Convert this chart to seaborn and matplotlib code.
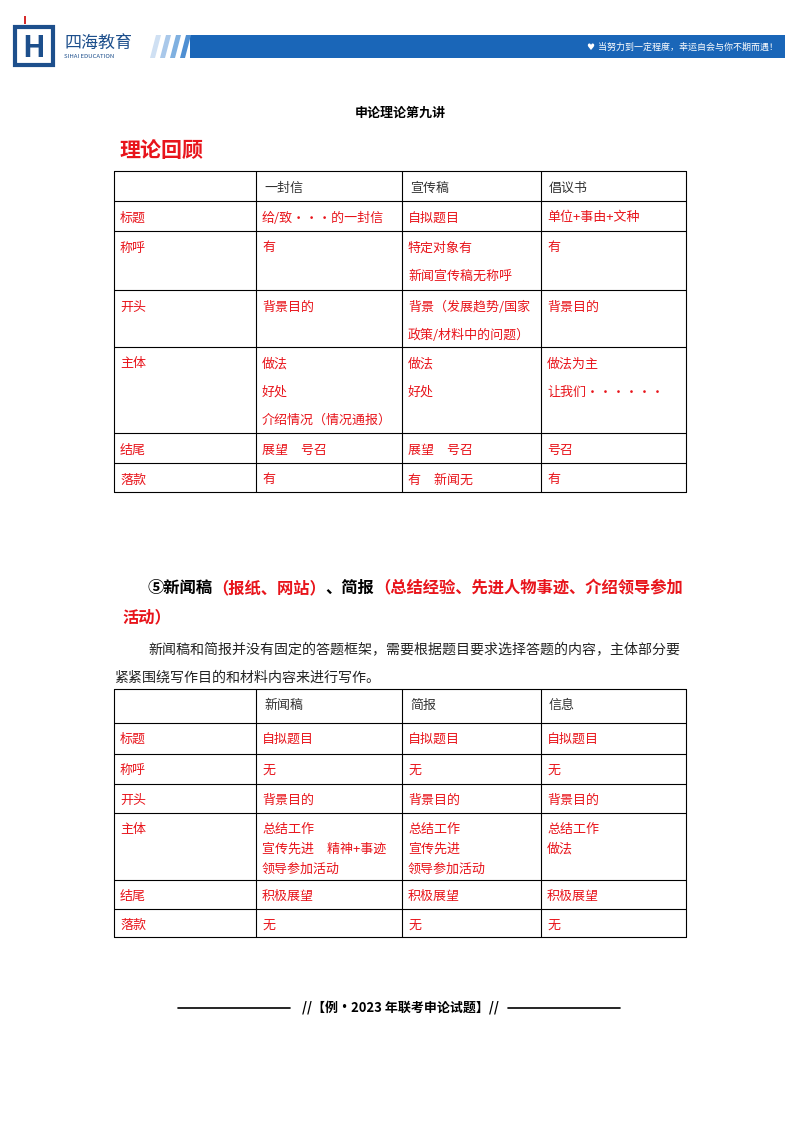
import matplotlib
matplotlib.use("Agg")
import matplotlib.pyplot as plt
import matplotlib.patches as mpatches
import seaborn as sns

sns.set_theme(style="white")
plt.rcParams['font.family'] = ['Noto Sans CJK SC', 'DejaVu Sans']

RED = '#e8141b'
BLUE = '#1a66b8'

# table contents
cols1 = ['', '一封信', '宣传稿', '倡议书']
rows1 = ['标题', '称呼', '开头', '主体', '结尾', '落款']
cells1 = [
    ['给/致・・・的一封信', '自拟题目', '单位+事由+文种'],
    ['有', '特定对象有\n新闻宣传稿无称呼', '有'],
    ['背景目的', '背景（发展趋势/国家\n政策/材料中的问题）', '背景目的'],
    ['做法\n好处\n介绍情况（情况通报）', '做法\n好处', '做法为主\n让我们・・・・・・'],
    ['展望　号召', '展望　号召', '号召'],
    ['有', '有　新闻无', '有'],
]
cols2 = ['', '新闻稿', '简报', '信息']
rows2 = ['标题', '称呼', '开头', '主体', '结尾', '落款']
cells2 = [
    ['自拟题目', '自拟题目', '自拟题目'],
    ['无', '无', '无'],
    ['背景目的', '背景目的', '背景目的'],
    ['总结工作\n宣传先进　精神+事迹\n领导参加活动', '总结工作\n宣传先进\n领导参加活动', '总结工作\n做法'],
    ['积极展望', '积极展望', '积极展望'],
    ['无', '无', '无'],
]
col_x = [114, 256, 402, 541, 686]
row_y1 = [171, 201, 231, 290, 347, 433, 463, 492]
row_y2 = [689, 723, 754, 784, 813, 880, 909, 937]

fig = plt.figure(figsize=(8, 11.32), dpi=100)
ax = fig.add_axes([0, 0, 1, 1])
ax.set_xlim(0, 800)
ax.set_ylim(1132, 0)
ax.axis('off')


def px(s):
    return s * 0.72


# header
ax.add_patch(mpatches.Rectangle((190, 35), 595, 23, color=BLUE, lw=0))
for i, c in enumerate(['#cfe0f3', '#a9c8ea', '#7fb0e0', '#4f8fd2']):
    x0 = 150 + i * 10
    ax.add_patch(mpatches.Polygon([[x0 + 6, 35], [x0 + 11, 35], [x0 + 5, 58], [x0, 58]], color=c, lw=0))
ax.add_patch(mpatches.Rectangle((15, 27), 38, 38, fill=False, ec='#1d4f8c', lw=3))
ax.text(34, 48, 'H', color='#1d4f8c', fontsize=px(30), ha='center', va='center', fontweight='bold')
ax.add_patch(mpatches.Rectangle((23.5, 16), 2, 8, color='#d62c2c', lw=0))
ax.text(64, 43, '四海教育', color='#1d4f8c', fontsize=px(17), va='center')
ax.text(64, 57, 'SIHAI EDUCATION', color='#1d4f8c', fontsize=px(6), va='center')
ax.text(778, 47, '♥ 当努力到一定程度，幸运自会与你不期而遇！', color='white',
        fontsize=px(9), ha='right', va='center', family=['DejaVu Sans', 'Noto Sans CJK SC'])

ax.text(400, 113, '申论理论第九讲', fontsize=px(13), ha='center', va='center', fontweight='bold', color='black')
ax.text(120, 150, '理论回顾', fontsize=px(21), va='center', fontweight='bold', color=RED)


def draw_table(cols, rows, cells, row_y, spacing, first_off):
    for x in col_x:
        ax.plot([x, x], [row_y[0], row_y[-1]], color='black', lw=0.8)
    for y in row_y:
        ax.plot([col_x[0], col_x[-1]], [y, y], color='black', lw=0.8)
    for j, c in enumerate(cols):
        ax.text(col_x[j] + 8, row_y[0] + first_off, c, fontsize=px(13), va='center', color='#333333')
    for i, r in enumerate(rows):
        top = row_y[i + 1]
        ax.text(col_x[0] + 6, top + first_off, r, fontsize=px(13), va='center', color=RED)
        for j, txt in enumerate(cells[i]):
            for k, line in enumerate(txt.split('\n')):
                ax.text(col_x[j + 1] + 6, top + first_off + k * spacing, line,
                        fontsize=px(13), va='center', color=RED)


draw_table(cols1, rows1, cells1, row_y1, 28, 17)
draw_table(cols2, rows2, cells2, row_y2, 20, 16)


def seg_line(x, y, parts, size, weight='normal'):
    fig.canvas.draw()
    r = fig.canvas.get_renderer()
    for s, c in parts:
        t = ax.text(x, y, s, fontsize=px(size), color=c, va='center', fontweight=weight)
        bb = t.get_window_extent(renderer=r)
        x += bb.width


seg_line(147, 588, [('⑤新闻稿', 'black'), ('（报纸、网站）', RED), ('、简报', 'black'),
                    ('（总结经验、先进人物事迹、介绍领导参加', RED)], 16.3, 'bold')
ax.text(122, 617, '活动）', fontsize=px(16.3), color=RED, va='center', fontweight='bold')
ax.text(148, 650, '新闻稿和简报并没有固定的答题框架，需要根据题目要求选择答题的内容，主体部分要',
        fontsize=px(14), va='center', color='#222222')
ax.text(114, 678, '紧紧围绕写作目的和材料内容来进行写作。', fontsize=px(14), va='center', color='#222222')

ax.plot([178, 290], [1008, 1008], color='black', lw=1.2)
ax.plot([508, 620], [1008, 1008], color='black', lw=1.2)
ax.text(400, 1008, '//【例·2023 年联考申论试题】//', fontsize=px(13), ha='center', va='center',
        fontweight='bold', color='black')

fig.savefig('out.png', dpi=100, facecolor='white')
